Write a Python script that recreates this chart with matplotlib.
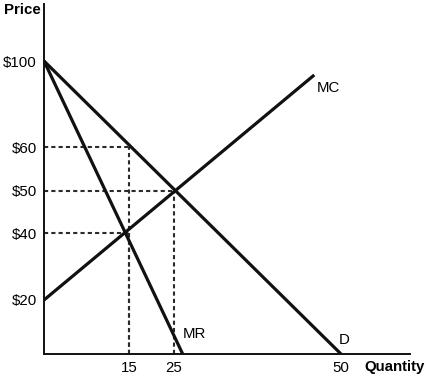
import numpy as np
import matplotlib; matplotlib.use("Agg")
import matplotlib.pyplot as plt

plt.rcParams['font.family'] = ['Liberation Sans', 'DejaVu Sans']

# ---- data ----
PRICE_TICKS = [20, 40, 50, 60, 100]
PRICE_LABELS = ["$20", "$40", "$50", "$60", "$100"]
QTY_TICKS = [15, 25, 50]
QTY_LABELS = ["15", "25", "50"]

demand_q = [0, 50];  demand_p = [100, 0]
mr_q = [0, 26.3];    mr_p = [100, 0]
mc_q = [0, 46];      mc_p = [20, 93.5]

# dashed guides: (quantity, price) of each marked point
guide_q = [15, 25, 15]
guide_p = [60, 50, 40]

# the textbook figure is not drawn to scale: piecewise axis spacing as drawn
Q_KNOTS = [0, 15, 25, 50, 60];  Q_POS = [0, 85, 130, 297, 366]
P_KNOTS = [0, 20, 40, 50, 60, 100, 120];  P_POS = [0, 54, 121, 163.5, 207, 293, 350]

def qf(v): return np.interp(v, Q_KNOTS, Q_POS)
def qi(v): return np.interp(v, Q_POS, Q_KNOTS)
def pf(v): return np.interp(v, P_KNOTS, P_POS)
def pi(v): return np.interp(v, P_POS, P_KNOTS)

W, H = 426, 376
fig = plt.figure(figsize=(W/100, H/100), dpi=100)
ax = fig.add_axes([44/W, 22/H, 366/W, 350/H])
ax.set_xscale("function", functions=(qf, qi))
ax.set_yscale("function", functions=(pf, pi))
ax.set_xlim(0, 60); ax.set_ylim(0, 120)

LINE = "#111111"
for q, p in zip(guide_q, guide_p):
    ax.plot([0, q], [p, p], color="#2b2b2b", lw=1.5, dashes=(2.0, 1.5))
    ax.plot([q, q], [0, p], color="#2b2b2b", lw=1.5, dashes=(2.0, 1.5))

ax.plot(demand_q, demand_p, color=LINE, lw=2.3, solid_capstyle="butt")
ax.plot(mr_q, mr_p, color=LINE, lw=2.3, solid_capstyle="butt")
ax.plot(mc_q, mc_p, color=LINE, lw=2.3, solid_capstyle="butt")

fs = 10.8
ax.annotate("MC", (mc_q[1], mc_p[1]), xytext=(2, -13), textcoords="offset pixels",
            ha="left", va="center", fontsize=fs)
ax.annotate("MR", (mr_q[1], mr_p[1]), xytext=(0, 20), textcoords="offset pixels",
            ha="left", va="center", fontsize=fs)
ax.annotate("D", (demand_q[1], demand_p[1]), xytext=(-2, 14), textcoords="offset pixels",
            ha="left", va="center", fontsize=fs)

ax.set_xticks(QTY_TICKS); ax.set_xticklabels(QTY_LABELS, fontsize=fs)
ax.set_yticks(PRICE_TICKS); ax.set_yticklabels(PRICE_LABELS, fontsize=fs)
ax.minorticks_off()
ax.tick_params(which="both", length=0, pad=5)
for sp in ("top", "right"):
    ax.spines[sp].set_visible(False)
for sp in ("left", "bottom"):
    ax.spines[sp].set_linewidth(1.4)
    ax.spines[sp].set_color(LINE)

fig.text(4/W, 1 - 10/H, "Price", ha="left", va="center", fontsize=fs, weight="bold")
fig.text(364/W, 1 - 367/H, "Quantity", ha="left", va="center", fontsize=fs, weight="bold")

fig.savefig("out.png", dpi=100)
